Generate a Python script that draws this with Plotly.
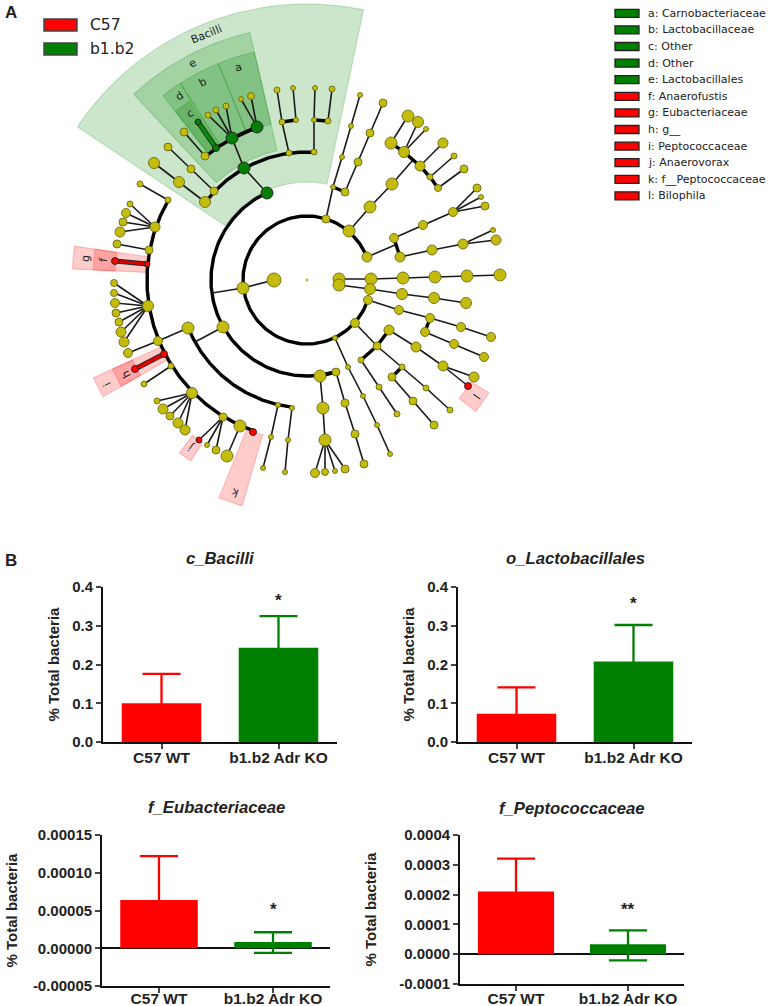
import numpy as np
import plotly.graph_objects as go

W, H = 768, 1006
CX, CY = 307, 280

# ---------- panel A data ----------
group_names = ["C57", "b1.b2"]
taxa_labels = ["a: Carnobacteriaceae", "b: Lactobacillaceae", "c: Other", "d: Other", "e: Lactobacillales",
               "f: Anaerofustis", "g: Eubacteriaceae", "h: g__", "i: Peptococcaceae", "j: Anaerovorax",
               "k: f__Peptococcaceae", "l: Bilophila"]
taxa_groups = ["g"] * 5 + ["r"] * 7

# sector: label, colour, r0, r1, theta0, theta1 (degrees clockwise from north)
sector_name = ["Bacilli", "e", "a", "b", "d", "c", "g", "f", "i", "h", "j", "k", "l"]
sector_col = ["g"] * 6 + ["r"] * 7
sector_r0 = [98, 133, 160, 160, 160, 160, 161, 192, 161, 192, 193, 161, 193]
sector_r1 = [276, 254, 234, 234, 234, 214, 235, 214, 235, 214, 215, 235, 214]
sector_t0 = [-56.3, -43, -22.3, -32.8, -38, -38, -87.3, -87.3, -119.8, -119.8, -147.3, -164, 121.8]
sector_t1 = [11.8, -13, -13, -22.3, -32.8, -33.4, -81.7, -81.7, -114.6, -114.6, -143.6, -158, 127.9]

label_text = ["Bacilli", "a", "b", "c", "d", "e", "g", "f", "i", "h", "j", "k", "l"]
label_x = [206, 238, 202, 190, 179, 192, 85, 103, 107, 126, 191, 235, 477]
label_y = [34, 67, 82, 113, 96, 63, 259, 260, 385, 375, 448, 493, 396]
label_rot = [-22, -17.5, -27.5, -35, -35, -28, -84.5, -84.5, -117, -117, -145.5, -161, 125]

# ring arcs: radius, start, end (degrees clockwise from north)
ring_r = [64, 64, 96, 128, 128, 160, 160]
ring_t0 = [17, 108, 162.5, -52.6, -173, -160.4, -39.4]
ring_t1 = [69, 377, 335, 3, -112, -60, -18]

thin_chains = [
    [(267, 193), (244, 168), (232, 138)],
    [(232, 138), (208, 115)], [(232, 138), (216, 110)], [(232, 138), (226, 106)],
    [(257, 127), (241, 99)], [(257, 127), (251, 96)],
    [(205, 156), (184, 132)], [(214, 191), (191, 169), (168, 147)], [(205, 202), (179, 182), (154, 163)],
    [(289, 153), (282, 122), (277, 90)], [(296, 120), (293, 88)],
    [(314, 152), (314, 120), (315, 88)], [(328, 121), (332, 89)],
    [(168, 200), (140, 184)],
    [(155, 227), (130, 204)], [(155, 227), (126, 213)], [(155, 227), (123, 222)], [(155, 227), (120, 232)],
    [(149, 250), (117, 244)],
    [(148, 306), (114, 283)], [(148, 306), (114, 293)], [(148, 306), (115, 303)], [(148, 306), (116, 313)],
    [(148, 306), (119, 322)], [(148, 306), (121, 332)], [(148, 306), (124, 342)],
    [(158, 341), (128, 353)], [(158, 341), (188, 328)], [(195, 342), (223, 327)], [(212, 293), (243, 288), (274, 280)],
    [(171, 366), (144, 384)],
    [(192, 393), (157, 401)], [(192, 393), (163, 409)], [(192, 393), (170, 416)], [(192, 393), (178, 423)], [(192, 393), (185, 430)],
    [(223, 417), (199, 440)], [(223, 417), (207, 445)], [(223, 417), (216, 450)], [(240, 426), (227, 456)],
    [(278, 405), (271, 437), (263, 468)], [(292, 408), (288, 440), (285, 472)],
    [(320, 376), (323, 408), (325, 440), (315, 473)], [(325, 440), (325, 472)], [(325, 440), (335, 471)], [(325, 440), (345, 469)],
    [(336, 372), (345, 403), (355, 434), (364, 464)],
    [(335, 338), (348, 367), (363, 396), (377, 425), (390, 454)],
    [(355, 323), (377, 346)], [(361, 360), (379, 387), (397, 414)],
    [(377, 346), (402, 367), (426, 388), (450, 410)], [(392, 377), (413, 401), (434, 425)],
    [(389, 330), (416, 347), (443, 366), (474, 377)], [(443, 366), (468, 386)],
    [(368, 300), (399, 310), (430, 318), (461, 327), (491, 337)], [(425, 332), (454, 344), (484, 357)],
    [(339, 279), (371, 279), (403, 278), (435, 277), (467, 276), (500, 275)],
    [(339, 285), (370, 289), (402, 294), (434, 298), (466, 303)],
    [(367, 257), (395, 245)],
    [(400, 257), (432, 250), (463, 244), (493, 230)], [(463, 244), (496, 240)],
    [(394, 238), (423, 225), (453, 212), (477, 188)], [(453, 212), (481, 197)], [(453, 212), (485, 206)],
    [(349, 231), (370, 207), (392, 184), (413, 160)],
    [(391, 143), (408, 116)], [(404, 152), (418, 122)], [(404, 152), (426, 129)],
    [(420, 166), (443, 143)], [(430, 177), (454, 156)], [(438, 188), (464, 169)],
    [(326, 219), (333, 187), (342, 157), (351, 126), (360, 95)],
    [(345, 192), (358, 162), (370, 133), (383, 103)],
]
thick_chains = [
    [(282, 122), (296, 120)], [(314, 120), (328, 121)], [(320, 376), (336, 372)],
    [(377, 346), (361, 360)], [(377, 346), (389, 330)], [(402, 367), (392, 377)],
    [(430, 318), (425, 332)], [(394, 238), (400, 257)],
    [(391, 143), (404, 152), (420, 166), (430, 177), (438, 188)], [(333, 187), (345, 192)],
    [(232, 138), (257, 127)],
]
red_chains = [[(147, 264), (115, 261)], [(164, 354), (135, 369)]]
green_chains = [[(216, 148), (198, 122)]]

yellow_nodes = [
    (205, 156, 8), (184, 132, 8), (168, 147, 8), (191, 169, 8), (214, 191, 8), (154, 163, 11), (179, 182, 11), (205, 202, 11),
    (208, 115, 6), (216, 110, 6), (226, 106, 6), (241, 99, 5), (251, 96, 7), (289, 153, 6), (314, 152, 6),
    (282, 122, 6), (296, 120, 5), (277, 90, 6), (293, 88, 5), (314, 120, 5), (328, 121, 6), (315, 88, 5), (332, 89, 6),
    (168, 200, 6), (140, 184, 6), (155, 227, 10), (130, 204, 6), (126, 213, 9), (123, 222, 8), (120, 232, 10), (117, 244, 8), (149, 250, 8),
    (148, 306, 11), (114, 283, 7), (114, 293, 7), (115, 303, 9), (116, 313, 8), (119, 322, 8), (121, 332, 10), (124, 342, 10),
    (158, 341, 9), (128, 353, 9), (188, 328, 12), (223, 327, 12), (243, 288, 12), (274, 280, 14),
    (171, 366, 6), (144, 384, 6), (192, 393, 11), (157, 401, 6), (163, 409, 10), (170, 416, 8), (178, 423, 10), (185, 430, 10),
    (223, 417, 8), (207, 445, 5), (216, 450, 8), (240, 426, 12), (227, 456, 12),
    (278, 405, 5), (292, 408, 5), (271, 437, 5), (263, 468, 5), (288, 440, 5), (285, 472, 5),
    (320, 376, 12), (323, 408, 12), (325, 440, 12), (315, 473, 9), (325, 472, 7), (335, 471, 5), (345, 469, 8),
    (336, 372, 8), (345, 403, 8), (355, 434, 8), (364, 464, 8),
    (326, 219, 8), (349, 231, 12), (367, 257, 10), (368, 300, 9), (355, 323, 9), (335, 338, 5),
    (348, 367, 5), (363, 396, 5), (377, 425, 5), (390, 454, 5),
    (377, 346, 8), (361, 360, 6), (389, 330, 10), (379, 387, 6), (397, 414, 6), (402, 367, 6), (392, 377, 8),
    (426, 388, 6), (450, 410, 6), (413, 401, 8), (434, 425, 8), (416, 347, 10), (443, 366, 10), (474, 377, 10),
    (399, 310, 9), (430, 318, 9), (425, 332, 9), (461, 327, 9), (491, 337, 9), (454, 344, 9), (484, 357, 9),
    (339, 279, 12), (339, 285, 12), (371, 279, 12), (370, 289, 11), (403, 278, 12), (435, 277, 12), (467, 276, 12), (500, 275, 12),
    (402, 294, 11), (434, 298, 11), (466, 303, 11),
    (394, 238, 9), (400, 257, 10), (432, 250, 10), (463, 244, 10), (493, 230, 5), (496, 240, 10),
    (423, 225, 9), (453, 212, 9), (477, 188, 8), (481, 197, 5), (485, 206, 8),
    (370, 207, 12), (392, 184, 12), (391, 143, 12), (404, 152, 11), (420, 166, 10), (430, 177, 6), (438, 188, 7),
    (408, 116, 12), (418, 122, 11), (426, 129, 5), (443, 143, 10), (454, 156, 6), (464, 169, 8),
    (333, 187, 5), (342, 157, 5), (351, 126, 5), (360, 95, 5), (345, 192, 8), (358, 162, 8), (370, 133, 8), (383, 103, 8),
]
green_nodes = [(267, 193, 12), (244, 168, 12), (232, 138, 12), (257, 127, 12), (216, 148, 7), (198, 122, 6)]
red_nodes = [(147, 264, 6), (115, 261, 7), (164, 354, 7), (135, 369, 7), (199, 440, 6), (253, 432, 7), (468, 386, 7)]
center_node = [(307, 280, 3)]

# ---------- panel B data ----------
bar_categories = ["C57 WT", "b1.b2 Adr KO"]
panel_titles = ["c_Bacilli", "o_Lactobacillales", "f_Eubacteriaceae", "f_Peptococcaceae"]
panel_means = [[0.100, 0.243], [0.073, 0.208], [0.000064, 0.0000084], [0.00021, 0.000033]]
panel_err_up = [[0.076, 0.082], [0.068, 0.094], [0.000058, 0.0000128], [0.000111, 0.000047]]
panel_err_dn = [[0.01, 0.01], [0.01, 0.01], [0.00001, 0.0000146], [0.00002, 0.000054]]
panel_ticks = [[0, 0.1, 0.2, 0.3, 0.4], [0, 0.1, 0.2, 0.3, 0.4],
               [-0.00005, 0, 0.00005, 0.0001, 0.00015], [-0.0001, 0, 0.0001, 0.0002, 0.0003, 0.0004]]
panel_ticktext = [["0.0", "0.1", "0.2", "0.3", "0.4"], ["0.0", "0.1", "0.2", "0.3", "0.4"],
                  ["-0.00005", "0.00000", "0.00005", "0.00010", "0.00015"],
                  ["-0.0001", "0.0000", "0.0001", "0.0002", "0.0003", "0.0004"]]
panel_range = [[0, 0.4], [0, 0.4], [-0.00005, 0.00015], [-0.0001, 0.0004]]
panel_star = ["*", "*", "*", "**"]
panel_star_y = [0.365, 0.357, 0.0000515, 0.00015]

# pixel boxes of the four plot areas: left, right, top, bottom
box_left = [103, 458, 102, 460]
box_right = [337, 692, 330, 684]
box_top = [587, 587, 835, 835]
box_bottom = [742, 742, 986, 984]
title_cx = [220, 575, 216, 572]
title_cy = [558, 558, 807, 808]
ytitle_standoff = [9, 9, 12, 19]
xlabel_shift = [-5, -5, -8, -6]

RED, GREEN, OLIVE = "#ff0000", "#067d06", "#c4bc0c"
BOLD = "Liberation Sans"
DV = "DejaVu Sans"
FILL = {"g": "rgba(0,128,0,0.2)", "r": "rgba(255,0,0,0.2)"}
SOLID = {"g": "#008000", "r": "#ff0000"}

fig = go.Figure()
XA, YA = "x5", "y5"


def polar(t, r):
    t = np.radians(t)
    return CX + r * np.sin(t), CY - r * np.cos(t)


def line_trace(chain, color, width):
    fig.add_trace(go.Scatter(x=[p[0] for p in chain], y=[p[1] for p in chain], mode="lines",
                             line=dict(color=color, width=width), xaxis=XA, yaxis=YA,
                             hoverinfo="skip", showlegend=False))


def node_trace(nodes, color, name):
    fig.add_trace(go.Scatter(x=[n[0] for n in nodes], y=[n[1] for n in nodes], mode="markers", name=name,
                             marker=dict(color=color, size=[n[2] for n in nodes], opacity=1,
                                         line=dict(color="#6b6b14" if color == OLIVE else "#222", width=0.9)),
                             xaxis=XA, yaxis=YA, showlegend=False))


for nm, c, r0, r1, t0, t1 in zip(sector_name, sector_col, sector_r0, sector_r1, sector_t0, sector_t1):
    ts = np.linspace(t0, t1, 40)
    xo, yo = polar(ts, r1)
    xi, yi = polar(ts[::-1], r0)
    fig.add_trace(go.Scatter(x=np.r_[xo, xi, xo[0]], y=np.r_[yo, yi, yo[0]], mode="lines", fill="toself",
                             fillcolor=FILL[c], line=dict(color=FILL[c], width=1.2), name=nm,
                             xaxis=XA, yaxis=YA, hoverinfo="skip", showlegend=False))

for r, t0, t1 in zip(ring_r, ring_t0, ring_t1):
    x, y = polar(np.linspace(t0, t1, 120), r)
    line_trace(list(zip(x, y)), "#000", 3.4)
for ch in thin_chains:
    line_trace(ch, "#1a1a1a", 1.6)
for ch in thick_chains:
    line_trace(ch, "#000", 3.4)
for ch in red_chains:
    line_trace(ch, "#222", 5)
    line_trace(ch, "#e00000", 3.2)
for ch in green_chains:
    line_trace(ch, "#0b3d0b", 5)
    line_trace(ch, "#0a8a0a", 3.2)

node_trace(yellow_nodes, OLIVE, "nodes")
node_trace(green_nodes, GREEN, "b1.b2")
node_trace(red_nodes, RED, "C57")
fig.add_trace(go.Scatter(x=[n[0] for n in center_node], y=[n[1] for n in center_node], mode="markers",
                         marker=dict(color=OLIVE, size=3), xaxis=XA, yaxis=YA, showlegend=False))

ann = []
shapes = []
for t, x, y, r in zip(label_text, label_x, label_y, label_rot):
    ann.append(dict(text=t, x=x, y=y, xref=XA, yref=YA, showarrow=False, textangle=r,
                    font=dict(family=DV, size=11, color="#222")))

# legends
for nm, col, y in zip(group_names, [RED, "#008000"], [25, 49]):
    shapes.append(dict(type="rect", xref=XA, yref=YA, x0=44, x1=77, y0=y - 6, y1=y + 6,
                       fillcolor=col, line=dict(color="#444", width=1.5)))
    ann.append(dict(text=nm, x=88, y=y, xref=XA, yref=YA, showarrow=False, xanchor="left",
                    font=dict(family=DV, size=15.5, color="#222")))
for i, (t, g) in enumerate(zip(taxa_labels, taxa_groups)):
    y = 13.3 + i * 16.6
    shapes.append(dict(type="rect", xref=XA, yref=YA, x0=615, x1=639, y0=y - 4, y1=y + 4,
                       fillcolor=SOLID[g], line=dict(color="#222", width=1.3)))
    ann.append(dict(text=t, x=646, y=y, xref=XA, yref=YA, showarrow=False, xanchor="left",
                    font=dict(family=DV, size=11, color="#222")))
ann.append(dict(text="<b>A</b>", x=11, y=12, xref=XA, yref=YA, showarrow=False,
                font=dict(family=BOLD, size=17, color="#222")))
ann.append(dict(text="<b>B</b>", x=11, y=560, xref=XA, yref=YA, showarrow=False,
                font=dict(family=BOLD, size=17, color="#222")))

layout_axes = {}
for i in range(4):
    n = i + 1
    xa = f"xaxis{n if n > 1 else ''}"
    ya = f"yaxis{n if n > 1 else ''}"
    xr, yr = f"x{n if n > 1 else ''}", f"y{n if n > 1 else ''}"
    for j, col in enumerate([RED, "#008000"]):
        fig.add_trace(go.Bar(x=[j], y=[panel_means[i][j]], width=0.68, marker=dict(color=col, line=dict(width=0)),
                             error_y=dict(type="data", symmetric=False, array=[panel_err_up[i][j]],
                                          arrayminus=[panel_err_dn[i][j]], thickness=2.3, width=19, color=col),
                             xaxis=xr, yaxis=yr, showlegend=False, name=bar_categories[j]))
    layout_axes[xa] = dict(domain=[box_left[i] / W, box_right[i] / W], range=[-0.5, 1.5], anchor=yr,
                           tickvals=[0, 1], ticktext=bar_categories, ticks="outside", ticklen=5, tickwidth=1.8,
                           ticklabelstandoff=xlabel_shift[i],
                           showline=True, linecolor="#111", linewidth=1.8, showgrid=False, zeroline=False,
                           tickfont=dict(family=BOLD, size=15.5, color="#222", weight="bold"), automargin=False)
    layout_axes[ya] = dict(domain=[1 - box_bottom[i] / H, 1 - box_top[i] / H], range=panel_range[i], anchor=xr,
                           tickvals=panel_ticks[i], ticktext=panel_ticktext[i], ticks="outside", ticklen=5, tickwidth=1.8,
                           showline=True, linecolor="#111", linewidth=1.8, showgrid=False,
                           zeroline=panel_range[i][0] < 0, zerolinecolor="#111", zerolinewidth=1.6,
                           tickfont=dict(family=BOLD, size=15, color="#222", weight="bold"), automargin=False,
                           title=dict(text="<b>% Total bacteria</b>", standoff=ytitle_standoff[i],
                                      font=dict(family=BOLD, size=15, color="#222")))
    ann.append(dict(text=f"<b><i>{panel_titles[i]}</i></b>", x=title_cx[i], y=title_cy[i], xref=XA, yref=YA,
                    showarrow=False, font=dict(family=BOLD, size=16.7, color="#222")))
    ann.append(dict(text=f"<b>{panel_star[i]}</b>", x=1, y=panel_star_y[i], xref=xr, yref=yr, showarrow=False,
                    yanchor="middle", font=dict(family=BOLD, size=17, color="#222")))

layout_axes["xaxis5"] = dict(domain=[0, 1], range=[0, W], visible=False, anchor="y5", fixedrange=True)
layout_axes["yaxis5"] = dict(domain=[0, 1], range=[H, 0], visible=False, anchor="x5", fixedrange=True)

fig.update_layout(width=W, height=H, margin=dict(l=0, r=0, t=0, b=0), paper_bgcolor="white", plot_bgcolor="rgba(0,0,0,0)",
                  annotations=ann, shapes=shapes, barmode="overlay", showlegend=False, **layout_axes)
fig.write_html("out.html", post_script="document.body.style.margin='0';document.body.style.overflow='hidden';",
               config={"displayModeBar": False})
